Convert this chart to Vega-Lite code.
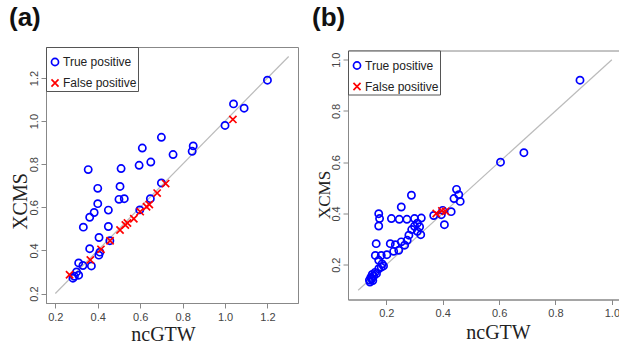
{
  "$schema": "https://vega.github.io/schema/vega-lite/v6.json",
  "autosize": {"type": "pad"},
  "padding": {"left": 8, "top": 4, "right": 0, "bottom": 0},
  "background": "white",
  "config": {
    "font": "Liberation Sans",
    "view": {"stroke": "#888", "strokeWidth": 1},
    "axis": {"domainColor": "#888", "tickColor": "#888", "tickSize": 5, "labelFont": "Liberation Sans", "labelFontSize": 11, "labelColor": "#444", "titleFont": "Liberation Serif", "titleFontSize": 20, "titleFontWeight": "normal", "titleColor": "#222", "grid": false, "labelPadding": 3, "labelFlush": false, "labelOverlap": false, "titleBaseline": "alphabetic"},
    "axisY": {"labelAngle": 270, "labelAlign": "center", "labelBaseline": "bottom", "labelPadding": 2},
    "legend": {"orient": "top-left", "offset": 0, "padding": 1, "strokeColor": "#555", "fillColor": "white", "labelFont": "Liberation Sans", "labelFontSize": 12, "labelColor": "#222", "symbolSize": 50, "symbolStrokeWidth": 1.7, "symbolOffset": 2, "labelOffset": 2, "rowPadding": 7, "titleFontSize": 1, "titlePadding": 7, "cornerRadius": 0}
  },
  "datasets": {
    "la": [{"ncGTW": 0.2, "XCMS": 0.2}, {"ncGTW": 1.3, "XCMS": 1.3}],
    "lb": [{"ncGTW": 0.1, "XCMS": 0.1}, {"ncGTW": 1.0, "XCMS": 1.0}],
    "pa": [
      {"ncGTW": 1.2, "XCMS": 1.19, "type": "True positive"},
      {"ncGTW": 1.04, "XCMS": 1.08, "type": "True positive"},
      {"ncGTW": 1.09, "XCMS": 1.06, "type": "True positive"},
      {"ncGTW": 1.0, "XCMS": 0.98, "type": "True positive"},
      {"ncGTW": 0.70, "XCMS": 0.925, "type": "True positive"},
      {"ncGTW": 0.61, "XCMS": 0.875, "type": "True positive"},
      {"ncGTW": 0.85, "XCMS": 0.885, "type": "True positive"},
      {"ncGTW": 0.845, "XCMS": 0.86, "type": "True positive"},
      {"ncGTW": 0.755, "XCMS": 0.845, "type": "True positive"},
      {"ncGTW": 0.65, "XCMS": 0.81, "type": "True positive"},
      {"ncGTW": 0.595, "XCMS": 0.795, "type": "True positive"},
      {"ncGTW": 0.355, "XCMS": 0.775, "type": "True positive"},
      {"ncGTW": 0.51, "XCMS": 0.78, "type": "True positive"},
      {"ncGTW": 0.505, "XCMS": 0.697, "type": "True positive"},
      {"ncGTW": 0.40, "XCMS": 0.688, "type": "True positive"},
      {"ncGTW": 0.40, "XCMS": 0.617, "type": "True positive"},
      {"ncGTW": 0.50, "XCMS": 0.637, "type": "True positive"},
      {"ncGTW": 0.525, "XCMS": 0.64, "type": "True positive"},
      {"ncGTW": 0.648, "XCMS": 0.64, "type": "True positive"},
      {"ncGTW": 0.70, "XCMS": 0.713, "type": "True positive"},
      {"ncGTW": 0.45, "XCMS": 0.587, "type": "True positive"},
      {"ncGTW": 0.383, "XCMS": 0.576, "type": "True positive"},
      {"ncGTW": 0.362, "XCMS": 0.554, "type": "True positive"},
      {"ncGTW": 0.332, "XCMS": 0.508, "type": "True positive"},
      {"ncGTW": 0.45, "XCMS": 0.511, "type": "True positive"},
      {"ncGTW": 0.406, "XCMS": 0.46, "type": "True positive"},
      {"ncGTW": 0.457, "XCMS": 0.445, "type": "True positive"},
      {"ncGTW": 0.362, "XCMS": 0.408, "type": "True positive"},
      {"ncGTW": 0.41, "XCMS": 0.392, "type": "True positive"},
      {"ncGTW": 0.405, "XCMS": 0.378, "type": "True positive"},
      {"ncGTW": 0.598, "XCMS": 0.588, "type": "True positive"},
      {"ncGTW": 0.31, "XCMS": 0.342, "type": "True positive"},
      {"ncGTW": 0.33, "XCMS": 0.33, "type": "True positive"},
      {"ncGTW": 0.37, "XCMS": 0.328, "type": "True positive"},
      {"ncGTW": 0.30, "XCMS": 0.30, "type": "True positive"},
      {"ncGTW": 0.29, "XCMS": 0.28, "type": "True positive"},
      {"ncGTW": 0.283, "XCMS": 0.271, "type": "True positive"},
      {"ncGTW": 0.31, "XCMS": 0.285, "type": "True positive"},
      {"ncGTW": 0.267, "XCMS": 0.287, "type": "False positive"},
      {"ncGTW": 0.365, "XCMS": 0.356, "type": "False positive"},
      {"ncGTW": 0.415, "XCMS": 0.405, "type": "False positive"},
      {"ncGTW": 0.458, "XCMS": 0.445, "type": "False positive"},
      {"ncGTW": 0.505, "XCMS": 0.495, "type": "False positive"},
      {"ncGTW": 0.53, "XCMS": 0.518, "type": "False positive"},
      {"ncGTW": 0.54, "XCMS": 0.527, "type": "False positive"},
      {"ncGTW": 0.57, "XCMS": 0.547, "type": "False positive"},
      {"ncGTW": 0.60, "XCMS": 0.58, "type": "False positive"},
      {"ncGTW": 0.63, "XCMS": 0.603, "type": "False positive"},
      {"ncGTW": 0.643, "XCMS": 0.613, "type": "False positive"},
      {"ncGTW": 0.68, "XCMS": 0.666, "type": "False positive"},
      {"ncGTW": 0.72, "XCMS": 0.71, "type": "False positive"},
      {"ncGTW": 1.037, "XCMS": 1.008, "type": "False positive"}
    ],
    "pb": [
      {"ncGTW": 0.887, "XCMS": 0.92, "type": "True positive"},
      {"ncGTW": 0.605, "XCMS": 0.60, "type": "True positive"},
      {"ncGTW": 0.688, "XCMS": 0.637, "type": "True positive"},
      {"ncGTW": 0.449, "XCMS": 0.494, "type": "True positive"},
      {"ncGTW": 0.457, "XCMS": 0.473, "type": "True positive"},
      {"ncGTW": 0.44, "XCMS": 0.458, "type": "True positive"},
      {"ncGTW": 0.462, "XCMS": 0.447, "type": "True positive"},
      {"ncGTW": 0.43, "XCMS": 0.407, "type": "True positive"},
      {"ncGTW": 0.406, "XCMS": 0.356, "type": "True positive"},
      {"ncGTW": 0.395, "XCMS": 0.395, "type": "True positive"},
      {"ncGTW": 0.368, "XCMS": 0.392, "type": "True positive"},
      {"ncGTW": 0.40, "XCMS": 0.412, "type": "True positive"},
      {"ncGTW": 0.289, "XCMS": 0.471, "type": "True positive"},
      {"ncGTW": 0.253, "XCMS": 0.425, "type": "True positive"},
      {"ncGTW": 0.173, "XCMS": 0.399, "type": "True positive"},
      {"ncGTW": 0.176, "XCMS": 0.38, "type": "True positive"},
      {"ncGTW": 0.173, "XCMS": 0.351, "type": "True positive"},
      {"ncGTW": 0.218, "XCMS": 0.38, "type": "True positive"},
      {"ncGTW": 0.246, "XCMS": 0.377, "type": "True positive"},
      {"ncGTW": 0.273, "XCMS": 0.377, "type": "True positive"},
      {"ncGTW": 0.30, "XCMS": 0.38, "type": "True positive"},
      {"ncGTW": 0.324, "XCMS": 0.382, "type": "True positive"},
      {"ncGTW": 0.31, "XCMS": 0.362, "type": "True positive"},
      {"ncGTW": 0.30, "XCMS": 0.35, "type": "True positive"},
      {"ncGTW": 0.318, "XCMS": 0.348, "type": "True positive"},
      {"ncGTW": 0.29, "XCMS": 0.337, "type": "True positive"},
      {"ncGTW": 0.31, "XCMS": 0.33, "type": "True positive"},
      {"ncGTW": 0.322, "XCMS": 0.317, "type": "True positive"},
      {"ncGTW": 0.28, "XCMS": 0.315, "type": "True positive"},
      {"ncGTW": 0.274, "XCMS": 0.295, "type": "True positive"},
      {"ncGTW": 0.253, "XCMS": 0.289, "type": "True positive"},
      {"ncGTW": 0.265, "XCMS": 0.276, "type": "True positive"},
      {"ncGTW": 0.232, "XCMS": 0.278, "type": "True positive"},
      {"ncGTW": 0.214, "XCMS": 0.282, "type": "True positive"},
      {"ncGTW": 0.244, "XCMS": 0.256, "type": "True positive"},
      {"ncGTW": 0.226, "XCMS": 0.252, "type": "True positive"},
      {"ncGTW": 0.164, "XCMS": 0.282, "type": "True positive"},
      {"ncGTW": 0.161, "XCMS": 0.236, "type": "True positive"},
      {"ncGTW": 0.182, "XCMS": 0.236, "type": "True positive"},
      {"ncGTW": 0.202, "XCMS": 0.239, "type": "True positive"},
      {"ncGTW": 0.173, "XCMS": 0.217, "type": "True positive"},
      {"ncGTW": 0.185, "XCMS": 0.203, "type": "True positive"},
      {"ncGTW": 0.19, "XCMS": 0.195, "type": "True positive"},
      {"ncGTW": 0.182, "XCMS": 0.19, "type": "True positive"},
      {"ncGTW": 0.173, "XCMS": 0.184, "type": "True positive"},
      {"ncGTW": 0.16, "XCMS": 0.17, "type": "True positive"},
      {"ncGTW": 0.15, "XCMS": 0.162, "type": "True positive"},
      {"ncGTW": 0.145, "XCMS": 0.15, "type": "True positive"},
      {"ncGTW": 0.14, "XCMS": 0.14, "type": "True positive"},
      {"ncGTW": 0.148, "XCMS": 0.145, "type": "True positive"},
      {"ncGTW": 0.155, "XCMS": 0.155, "type": "True positive"},
      {"ncGTW": 0.165, "XCMS": 0.165, "type": "True positive"},
      {"ncGTW": 0.142, "XCMS": 0.132, "type": "True positive"},
      {"ncGTW": 0.152, "XCMS": 0.138, "type": "True positive"},
      {"ncGTW": 0.377, "XCMS": 0.40, "type": "False positive"},
      {"ncGTW": 0.41, "XCMS": 0.408, "type": "False positive"},
      {"ncGTW": 0.397, "XCMS": 0.41, "type": "False positive"}
    ]
  },
  "hconcat": [
    {
      "width": 252,
      "height": 256,
      "title": {"text": "(a)", "anchor": "start", "frame": "group", "dx": -37, "offset": -5.5, "fontSize": 26, "fontWeight": "bold", "font": "Liberation Sans", "color": "#111", "baseline": "alphabetic"},
      "encoding": {
        "x": {"field": "ncGTW", "type": "quantitative", "scale": {"domain": [0.156, 1.344], "zero": false, "nice": false}, "axis": {"title": "ncGTW", "values": [0.2, 0.4, 0.6, 0.8, 1.0, 1.2], "format": ".1f", "titleX": 117, "titleY": 37}},
        "y": {"field": "XCMS", "type": "quantitative", "scale": {"domain": [0.156, 1.344], "zero": false, "nice": false}, "axis": {"title": "XCMS", "values": [0.2, 0.4, 0.6, 0.8, 1.0, 1.2], "format": ".1f", "titleX": -20, "titleY": 154, "titleAngle": 270, "titleAlign": "center"}}
      },
      "layer": [
        {"data": {"name": "la"}, "mark": {"type": "line", "color": "#bbb", "strokeWidth": 1.2}},
        {
          "data": {"name": "pa"},
          "mark": {"type": "point", "filled": false, "size": 52, "strokeWidth": 1.7, "opacity": 1},
          "encoding": {
            "color": {"field": "type", "type": "nominal", "scale": {"domain": ["True positive", "False positive"], "range": ["#0000ff", "#ff0000"]}, "legend": {"title": " "}},
            "shape": {"field": "type", "type": "nominal", "scale": {"domain": ["True positive", "False positive"], "range": ["circle", "M-1,-1L1,1M1,-1L-1,1"]}, "legend": {"title": " "}}
          }
        }
      ]
    },
    {
      "width": 274,
      "height": 249,
      "title": {"text": "(b)", "anchor": "start", "frame": "group", "dx": -36, "offset": -1.5, "fontSize": 26, "fontWeight": "bold", "font": "Liberation Sans", "color": "#111", "baseline": "alphabetic"},
      "encoding": {
        "x": {"field": "ncGTW", "type": "quantitative", "scale": {"domain": [0.064, 1.036], "zero": false, "nice": false}, "axis": {"title": "ncGTW", "values": [0.2, 0.4, 0.6, 0.8, 1.0], "format": ".1f", "titleX": 150, "titleY": 39}},
        "y": {"field": "XCMS", "type": "quantitative", "scale": {"domain": [0.064, 1.036], "zero": false, "nice": false}, "axis": {"title": "XCMS", "values": [0.2, 0.4, 0.6, 0.8, 1.0], "format": ".1f", "titleX": -19, "titleY": 144, "titleAngle": 270, "titleAlign": "center", "titleFontSize": 17}}
      },
      "layer": [
        {"data": {"name": "lb"}, "mark": {"type": "line", "color": "#bbb", "strokeWidth": 1.2}},
        {
          "data": {"name": "pb"},
          "mark": {"type": "point", "filled": false, "size": 52, "strokeWidth": 1.7, "opacity": 1},
          "encoding": {
            "color": {"field": "type", "type": "nominal", "scale": {"domain": ["True positive", "False positive"], "range": ["#0000ff", "#ff0000"]}, "legend": {"title": " "}},
            "shape": {"field": "type", "type": "nominal", "scale": {"domain": ["True positive", "False positive"], "range": ["circle", "M-1,-1L1,1M1,-1L-1,1"]}, "legend": {"title": " "}}
          }
        }
      ]
    }
  ],
  "spacing": 50,
  "bounds": "flush",
  "center": true,
  "resolve": {"scale": {"color": "independent", "shape": "independent"}, "legend": {"color": "independent", "shape": "independent"}}
}
